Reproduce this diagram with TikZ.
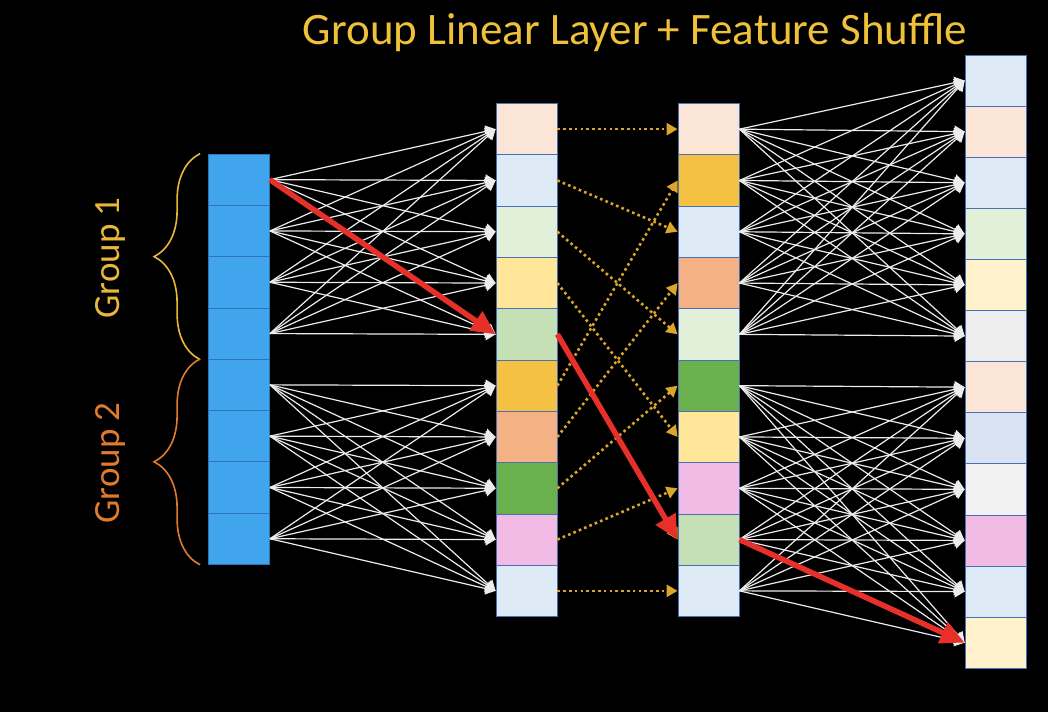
\documentclass[tikz,border=0pt]{standalone}
\usepackage{fontspec}
\setmainfont{Carlito}
\usetikzlibrary{arrows.meta,decorations.pathreplacing}

\definecolor{inblue}{HTML}{41A5EE}
\definecolor{inedge}{HTML}{2E75B6}
\definecolor{cedge}{HTML}{4A6FB5}
\definecolor{peach}{HTML}{FBE5D6}
\definecolor{lblue}{HTML}{DEEBF7}
\definecolor{lgreen}{HTML}{E2F0D9}
\definecolor{yel}{HTML}{FFE699}
\definecolor{mgreen}{HTML}{C5E0B4}
\definecolor{gold}{HTML}{F4C142}
\definecolor{salmon}{HTML}{F4B183}
\definecolor{dgreen}{HTML}{6AB04C}
\definecolor{pink}{HTML}{F2BBE6}
\definecolor{lyel}{HTML}{FFF2CC}
\definecolor{lgrey}{HTML}{EDEDED}
\definecolor{lav}{HTML}{DAE3F3}
\definecolor{wgrey}{HTML}{F2F2F2}
\definecolor{titlecol}{HTML}{EFC03A}
\definecolor{grponecol}{HTML}{E9B83A}
\definecolor{grptwocol}{HTML}{E07B2E}
\definecolor{shufcol}{HTML}{D9A62A}
\definecolor{redcol}{HTML}{E8302A}

\tikzset{
  cell/.style={draw=cedge, line width=0.8pt, minimum width=61pt, minimum height=51.3pt, inner sep=0pt},
  incell/.style={cell, draw=inedge, fill=inblue},
  wire/.style={white!85!gray, line width=1.2pt, -{Triangle[length=10pt,width=12pt]}},
  shuf/.style={shufcol, line width=2.6pt, dash pattern=on 2.6pt off 3.2pt, -{Triangle[length=11pt,width=12pt]}},
  path/.style={redcol, line width=5.5pt, -{Triangle[length=24pt,width=22pt]}},
  grplabel/.style={rotate=90, font=\fontsize{37}{40}\selectfont}
}

\begin{document}
\begin{tikzpicture}[x=1pt,y=-1pt]
\useasboundingbox (0,0) rectangle (1048,712);
\fill[black] (0,0) rectangle (1048,712);

%% columns
\foreach \i in {1,...,8}
  \node[incell] (a\i) at (239,{154+51.3*(\i-0.5)}) {};
\foreach \c [count=\i] in {peach,lblue,lgreen,yel,mgreen,gold,salmon,dgreen,pink,lblue}
  \node[cell,fill=\c] (b\i) at (526.5,{103.5+51.3*(\i-0.5)}) {};
\foreach \c [count=\i] in {peach,gold,lblue,salmon,lgreen,dgreen,yel,pink,mgreen,lblue}
  \node[cell,fill=\c] (c\i) at (708.5,{103.5+51.3*(\i-0.5)}) {};
\foreach \c [count=\i] in {lblue,peach,lblue,lgreen,lyel,lgrey,peach,lav,wgrey,pink,lblue,lyel}
  \node[cell,fill=\c,minimum height=51.1pt] (d\i) at (995.5,{55+51.1*(\i-0.5)}) {};

%% group linear layer 1
\foreach \i in {1,...,4}
  \foreach \j in {1,...,5}
    \draw[wire] (a\i.east) -- (b\j.west);
\foreach \i in {5,...,8}
  \foreach \j in {6,...,10}
    \draw[wire] (a\i.east) -- (b\j.west);

%% feature shuffle
\foreach \i/\j in {1/1,2/3,3/5,4/7,5/9,6/2,7/4,8/6,9/8,10/10}
  \draw[shuf] (b\i.east) -- (c\j.west);

%% group linear layer 2
\foreach \i in {1,...,5}
  \foreach \j in {1,...,6}
    \draw[wire] (c\i.east) -- (d\j.west);
\foreach \i in {6,...,10}
  \foreach \j in {7,...,12}
    \draw[wire] (c\i.east) -- (d\j.west);

%% red path
\draw[path] (a1.east) -- (b5.west);
\draw[path] (b5.east) -- (c9.west);
\draw[path] (c9.east) -- (d12.west);

%% groups
\draw[grponecol, line width=1.6pt, decorate, decoration={brace,amplitude=46pt}]
  ([xshift=-8pt]a4.south west) -- ([xshift=-8pt]a1.north west);
\draw[grptwocol, line width=1.6pt, decorate, decoration={brace,amplitude=46pt}]
  ([xshift=-8pt]a8.south west) -- ([xshift=-8pt]a5.north west);
\node[grplabel, text=grponecol] (grp1) at (110,258) {Group 1};
\node[grplabel, text=grptwocol] (grp2) at (110,463) {Group 2};

\node[text=titlecol, font=\fontsize{45}{48}\selectfont] (title) at (635,33) {Group Linear Layer + Feature Shuffle};
\end{tikzpicture}
\end{document}
